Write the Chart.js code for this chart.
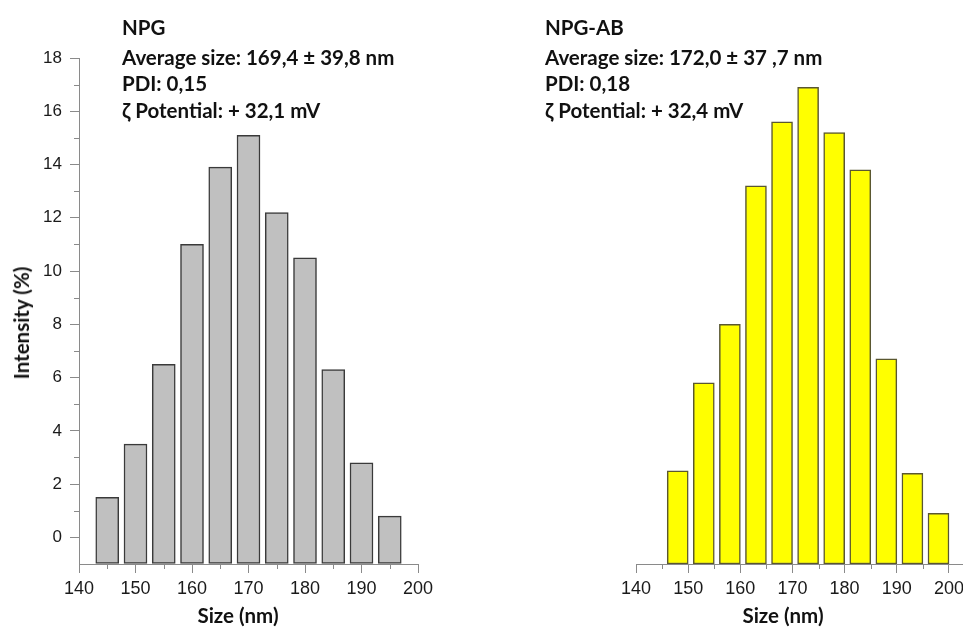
<!DOCTYPE html>
<html><head><meta charset="utf-8">
<script src="https://cdn.jsdelivr.net/npm/chart.js@4/dist/chart.umd.min.js"></script>
<style>
html,body{margin:0;padding:0;background:#fff;overflow:hidden;width:963px;height:627px;}
#wrap{position:relative;width:963px;height:627px;overflow:hidden;background:#fff;}
canvas{position:absolute;top:0;}
.t{position:absolute;font-family:Lato,'Open Sans',sans-serif;font-weight:700;color:#111;white-space:nowrap;font-size:20.5px;line-height:22px;}
.ax{position:absolute;font-family:Lato,'Open Sans',sans-serif;font-weight:700;color:#111;white-space:nowrap;font-size:20.5px;line-height:24px;transform:translate(-50%,-50%);}
</style></head><body>
<div id="wrap">
<canvas id="c1" width="440" height="627" style="left:0px"></canvas>
<canvas id="c2" width="440" height="627" style="left:560px"></canvas>

<div class="t" style="left:122px;top:16px">NPG</div>
<div class="t" style="left:122px;top:46px">Average size: 169,4 ± 39,8 nm</div>
<div class="t" style="left:122px;top:72px">PDI: 0,15</div>
<div class="t" style="left:122px;top:99px">ζ Potential: + 32,1 mV</div>

<div class="t" style="left:545px;top:16px">NPG-AB</div>
<div class="t" style="left:545px;top:46px">Average size: 172,0 ± 37 ,7 nm</div>
<div class="t" style="left:545px;top:72px">PDI: 0,18</div>
<div class="t" style="left:545px;top:99px">ζ Potential: + 32,4 mV</div>

<div class="ax" style="left:21px;top:323px;transform:translate(-50%,-50%) rotate(-90deg)">Intensity (%)</div>
<div class="ax" style="left:238px;top:615px">Size (nm)</div>
<div class="ax" style="left:783px;top:615px">Size (nm)</div>
</div>
<script>
// ---- data ----
const sizesNPG = [145, 150, 155, 160, 165, 170, 175, 180, 185, 190, 195];
const intensityNPG = [1.5, 3.5, 6.5, 11.0, 13.9, 15.1, 12.2, 10.5, 6.3, 2.8, 0.8];
const sizesNPGAB = [148, 153, 158, 163, 168, 173, 178, 183, 188, 193, 198];
const intensityNPGAB = [2.5, 5.8, 8.0, 13.2, 15.6, 16.9, 15.2, 13.8, 6.7, 2.4, 0.9];
const yRange = [-1, 18];
const xRangeNPG = [140, 200];
const xRangeNPGAB = [140, 205];

const axisColor = '#8a8a8a';
const tickFont = {family: "'Liberation Sans', Arial, sans-serif", size: 17};

const minorTicks = {
  id: 'minorTicks',
  afterDraw(chart) {
    const ctx = chart.ctx;
    ctx.save();
    ctx.strokeStyle = axisColor;
    ctx.lineWidth = 1;
    const xs = chart.scales.x;
    xs.ticks.forEach(t => {
      if (t.value % 10 !== 0) {
        const px = Math.round(xs.getPixelForValue(t.value)) + 0.5;
        ctx.beginPath(); ctx.moveTo(px, xs.top); ctx.lineTo(px, xs.top + 5); ctx.stroke();
      }
    });
    const ys = chart.scales.y;
    if (ys.options.display) {
      ys.ticks.forEach(t => {
        if (t.value > 0 && t.value % 2 !== 0) {
          const py = Math.round(ys.getPixelForValue(t.value)) + 0.5;
          ctx.beginPath(); ctx.moveTo(ys.right, py); ctx.lineTo(ys.right - 5, py); ctx.stroke();
        }
      });
    }
    ctx.restore();
  }
};

function makeChart(id, sizes, vals, xr, fill, border, thick, showY, pad) {
  return new Chart(document.getElementById(id), {
    type: 'bar',
    data: {
      datasets: [{
        data: sizes.map((s, i) => ({x: s, y: vals[i]})),
        backgroundColor: fill,
        borderColor: border,
        borderWidth: 1.5,
        borderSkipped: false,
        barThickness: thick,
        base: yRange[0]
      }]
    },
    options: {
      responsive: false,
      animation: false,
      events: [],
      layout: {padding: pad},
      plugins: {legend: {display: false}, tooltip: {enabled: false}, title: {display: false}},
      scales: {
        x: {
          type: 'linear',
          offset: false,
          min: xr[0], max: xr[1],
          grid: {offset: false, drawOnChartArea: false, drawTicks: true, tickLength: 9,
                 tickColor: c => (c.tick && c.tick.value % 10 === 0) ? axisColor : 'rgba(0,0,0,0)'},
          border: {color: axisColor, width: 1},
          ticks: {stepSize: 5, autoSkip: false, maxRotation: 0, padding: 5, color: '#1a1a1a',
                  font: {family: tickFont.family, size: 18},
                  callback: v => (v % 10 === 0 ? String(v) : '')},
          afterFit: s => { s.height = 63; }
        },
        y: {
          display: showY,
          min: yRange[0], max: yRange[1],
          grid: {drawOnChartArea: false, drawTicks: true, tickLength: 9,
                 tickColor: c => (c.tick && c.tick.value >= 0 && c.tick.value % 2 === 0) ? axisColor : 'rgba(0,0,0,0)'},
          border: {color: axisColor, width: 1},
          ticks: {stepSize: 1, autoSkip: false, padding: 8, color: '#1a1a1a', font: tickFont,
                  callback: v => (v >= 0 && v % 2 === 0 ? String(v) : '')},
          afterFit: s => { s.width = s.options.display ? 79 : 0; }
        }
      }
    },
    plugins: [minorTicks]
  });
}

makeChart('c1', sizesNPG, intensityNPG, xRangeNPG, '#c0c0c0', '#3a3a3a', 23, true,
  {top: 58, right: 22, left: 0, bottom: 0});
makeChart('c2', sizesNPGAB, intensityNPGAB, xRangeNPGAB, '#ffff00', '#5a5730', 21, false,
  {top: 58, right: 25, left: 76, bottom: 0});
</script>
</body></html>
